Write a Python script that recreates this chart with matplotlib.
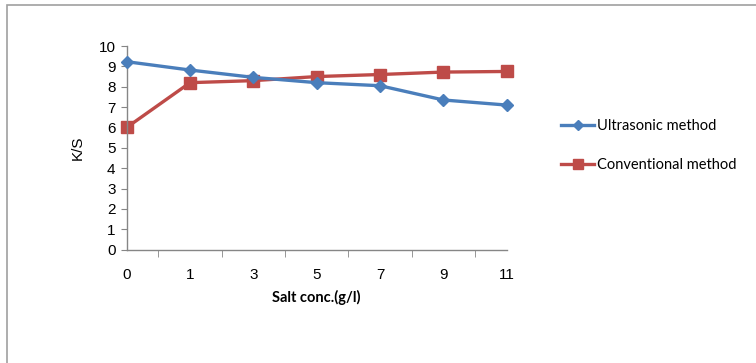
import matplotlib.pyplot as plt
from matplotlib.patches import Rectangle

# datos
salt_conc = ["0", "1", "3", "5", "7", "9", "11"]
ultrasonic = [9.23, 8.82, 8.46, 8.2, 8.05, 7.35, 7.1]
conventional = [6.0, 8.2, 8.3, 8.5, 8.6, 8.72, 8.75]

azul = "#4A7EBB"
rojo = "#BE4B48"

fig = plt.figure(figsize=(7.56, 3.63), dpi=100)
W, H = 756, 363
ax = fig.add_axes([126.7 / W, 1 - 249.7 / H, (506.7 - 126.7) / W, (249.7 - 46) / H])

# marco exterior
fig.patches.append(Rectangle((7 / W, -0.1), 1.2, 1 - 5 / H + 0.1, transform=fig.transFigure,
                             fill=False, edgecolor="#a0a0a0", linewidth=1.2))

x = list(range(len(salt_conc)))
ax.plot(x, ultrasonic, color=azul, lw=2.4, marker="D", ms=6.5, label="Ultrasonic method",
        zorder=3, clip_on=False)
ax.plot(x, conventional, color=rojo, lw=2.4, marker="s", ms=8.5, label="Conventional method",
        zorder=2, clip_on=False)

ax.set_xlim(0, len(salt_conc) - 1)
ax.set_ylim(0, 10)
ax.set_yticks(range(0, 11))
ax.set_xticks(x)
ax.set_xticklabels(salt_conc)
ax.set_xticks([i + 0.5 for i in range(len(salt_conc) - 1)] + [len(salt_conc) - 1], minor=True)

for s in ["top", "right"]:
    ax.spines[s].set_visible(False)
for s in ["left", "bottom"]:
    ax.spines[s].set_color("#868686")
    ax.spines[s].set_linewidth(1)

ax.tick_params(axis="y", length=4, color="#868686", labelsize=11, pad=4)
ax.tick_params(axis="x", which="major", length=0, labelsize=11, pad=13)
ax.tick_params(axis="x", which="minor", length=5, color="#868686")
for lab in ax.get_xticklabels() + ax.get_yticklabels():
    lab.set_fontfamily("Liberation Sans")

ax.set_ylabel("K/S", fontfamily="Liberation Sans", fontsize=11, labelpad=10)
ax.set_xlabel("Salt conc.(g/l)", fontfamily="Lato", fontweight="bold", fontsize=10.5,
              labelpad=6)

ax.legend(loc="upper left", bbox_to_anchor=(548 / W, 1 - 106 / H), bbox_transform=fig.transFigure,
          frameon=False, prop={"family": "Lato", "size": 10.5}, labelspacing=1.7,
          handlelength=2.25, handletextpad=0.2, markerscale=0.85)

fig.savefig("out.png", dpi=100)
